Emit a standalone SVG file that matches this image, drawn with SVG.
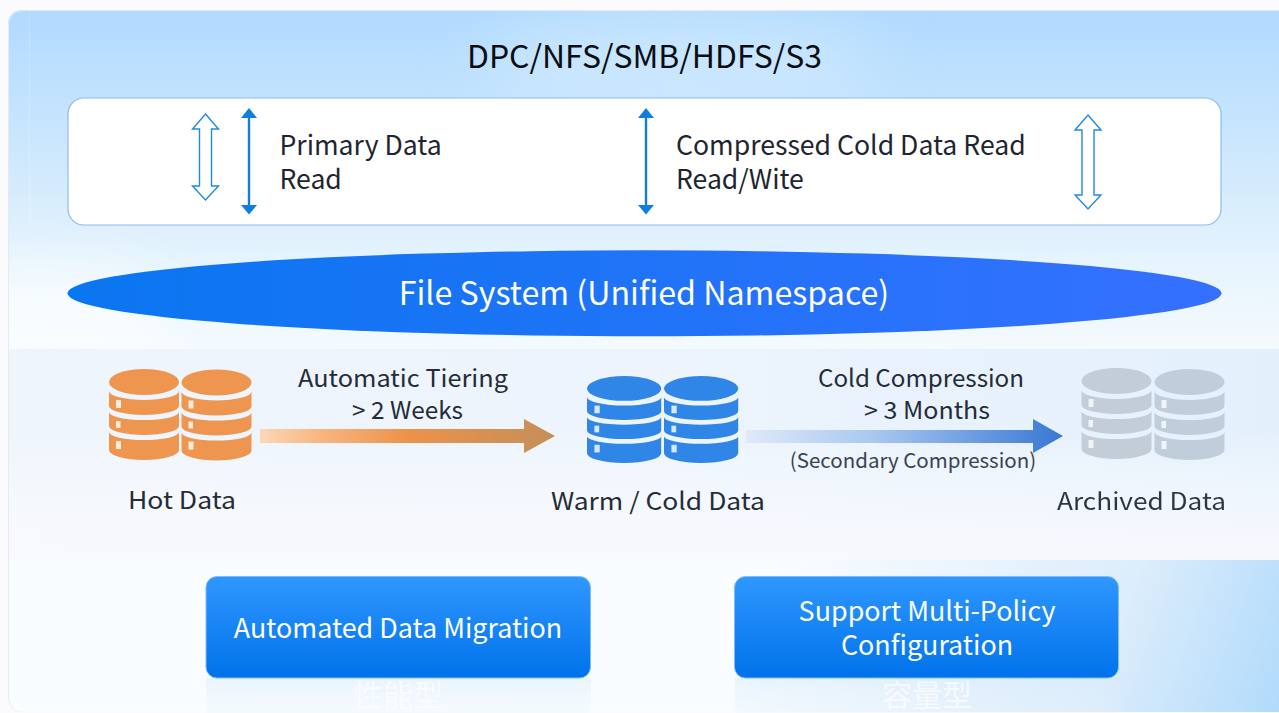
<svg xmlns="http://www.w3.org/2000/svg" xmlns:xlink="http://www.w3.org/1999/xlink" width="1279" height="713" viewBox="0 0 1279 713">
<style>
text{font-family:"Noto Sans CJK SC","Noto Sans",sans-serif}
.mid{font-size:24px;text-anchor:middle;fill:#252c38}
.lbl{font-size:26.600px;fill:#1e2530}
.btn{font-size:26.900px;fill:#fff;text-anchor:middle}
.ghost{font-size:30px;fill:#fff;fill-opacity:.7;text-anchor:middle}
.hollow{fill:#fff;stroke:#1f88e8;stroke-width:1.400}
.solid{fill:#0f7ee0}
.btnbox{fill:url(#btnG);stroke:#7fbdf8;stroke-width:1}
.refl{fill:url(#reflG)}
</style>
<defs>
<linearGradient id="topG" x1="0" y1="0" x2="0" y2="1"><stop offset="0" stop-color="#b0daff"/><stop offset=".35" stop-color="#c8e5fd"/><stop offset=".75" stop-color="#e6f4fd"/><stop offset="1" stop-color="#f5fafe"/></linearGradient>
<linearGradient id="bandG" x1="0" y1="0" x2="1" y2="0"><stop offset="0" stop-color="#eef5fc"/><stop offset=".5" stop-color="#edf4fd"/><stop offset="1" stop-color="#e3f0fc"/></linearGradient>
<linearGradient id="bandV" x1="0" y1="0" x2="0" y2="1"><stop offset="0" stop-color="#fff" stop-opacity="0"/><stop offset="1" stop-color="#f9f9fe" stop-opacity=".95"/></linearGradient>
<linearGradient id="botG" gradientUnits="userSpaceOnUse" x1="760" y1="560" x2="1279" y2="750"><stop offset="0" stop-color="#fafdff"/><stop offset=".65" stop-color="#dcedfb"/><stop offset="1" stop-color="#aed9fb"/></linearGradient>
<linearGradient id="ellG" x1="0" y1="0" x2="1" y2="0"><stop offset="0" stop-color="#0a76f0"/><stop offset="1" stop-color="#3570ff"/></linearGradient>
<linearGradient id="btnG" x1="0" y1="0" x2="0" y2="1"><stop offset="0" stop-color="#2f97ff"/><stop offset="1" stop-color="#0072ea"/></linearGradient>
<linearGradient id="reflG" x1="0" y1="0" x2="0" y2="1"><stop offset="0" stop-color="#d6e9fb" stop-opacity=".45"/><stop offset="1" stop-color="#e4f1fc" stop-opacity=".2"/></linearGradient>
<linearGradient id="a1G" x1="0" y1="0" x2="1" y2="0"><stop offset="0" stop-color="#fcd7b6"/><stop offset=".2" stop-color="#f8b683"/><stop offset=".5" stop-color="#ec924a"/><stop offset="1" stop-color="#c48f5a"/></linearGradient>
<linearGradient id="a2G" x1="0" y1="0" x2="1" y2="0"><stop offset="0" stop-color="#dfe9f8"/><stop offset=".4" stop-color="#a9c8ef"/><stop offset="1" stop-color="#3877d4"/></linearGradient>
<filter id="blur" x="-30%" y="-60%" width="160%" height="220%"><feGaussianBlur stdDeviation="30"/></filter>
<clipPath id="panelClip"><rect x="8" y="10" width="1290" height="702" rx="14"/></clipPath>
<g id="db">
<ellipse cx="35" cy="13" rx="35" ry="13"/>
<path d="M0 22A35 9 0 0 0 70 22V37A35 9 0 0 1 0 37Z"/>
<path d="M0 43A35 8 0 0 0 70 43V57A35 9 0 0 1 0 57Z"/>
<path d="M0 63A35 8 0 0 0 70 63V81A35 10 0 0 1 0 81Z"/>
<g fill="#fff" fill-opacity=".8"><rect x="7" y="31" width="5" height="8"/><rect x="7" y="52" width="4.500" height="7"/><rect x="7" y="72" width="5" height="8"/></g>
</g>
</defs>

<rect width="1279" height="713" fill="#fbfbfe"/>
<g id="background" clip-path="url(#panelClip)">
<rect x="8" y="10" width="1290" height="340" fill="url(#topG)"/>
<ellipse cx="680" cy="60" rx="200" ry="50" fill="#dcf0fe" fill-opacity=".45" filter="url(#blur)"/>
<ellipse cx="40" cy="320" rx="130" ry="50" fill="#fdffff" fill-opacity=".7" filter="url(#blur)"/>
<rect x="29" y="10" width="1" height="340" fill="#fff" fill-opacity=".2"/>
<rect x="8" y="349" width="1290" height="211" fill="url(#bandG)"/>
<rect x="8" y="430" width="1290" height="130" fill="url(#bandV)"/>
<rect x="8" y="560" width="1290" height="153" fill="url(#botG)"/>
<rect x="8.500" y="10.500" width="1290" height="702" rx="14" fill="none" stroke="#e8e8f4" stroke-width="1"/>
</g>

<g id="title"><text x="644.500" y="68" font-size="31.900" text-anchor="middle" fill="#0a0d12">DPC/NFS/SMB/HDFS/S3</text></g>

<g id="protocol-box">
<rect x="68" y="98" width="1153" height="127" rx="16" fill="#fff" stroke="#8cbcf2" stroke-width="1.200"/>
<text class="lbl"><tspan x="279.500" y="154.500">Primary Data</tspan><tspan x="279.500" y="189">Read</tspan></text>
<text class="lbl"><tspan x="676" y="154.500">Compressed Cold Data Read</tspan><tspan x="676" y="189">Read/Wite</tspan></text>
</g>

<g id="file-system">
<ellipse cx="644.500" cy="293.300" rx="577" ry="43" fill="url(#ellG)"/>
<text x="644" y="304.500" font-size="32.200" text-anchor="middle" fill="#fff">File System (Unified Namespace)</text>
</g>

<g id="hot-data">
<use xlink:href="#db" href="#db" x="109" y="369" fill="#ee9650"/>
<use xlink:href="#db" href="#db" x="181.500" y="369.500" fill="#ee9650"/>
<text class="mid" x="182" y="508.500" textLength="108" lengthAdjust="spacingAndGlyphs">Hot Data</text>
</g>
<g id="warm-cold-data">
<use xlink:href="#db" href="#db" transform="translate(587 376) scale(1.060 .955)" fill="#2f86e6"/>
<use xlink:href="#db" href="#db" transform="translate(664 376) scale(1.060 .955)" fill="#2f86e6"/>
<text class="mid" x="658" y="509.500" textLength="214" lengthAdjust="spacingAndGlyphs">Warm / Cold Data</text>
</g>
<g id="archived-data" opacity=".92">
<use xlink:href="#db" href="#db" x="1081.500" y="368" fill="#c0cad6"/>
<use xlink:href="#db" href="#db" x="1154.500" y="369" fill="#bdcbd9"/>
<text class="mid" x="1141.500" y="509.500" textLength="169" lengthAdjust="spacingAndGlyphs" style="fill:#1e2530">Archived Data</text>
</g>

<g id="connectors">
<path class="hollow" d="M205.500 114L218.500 129H211.500V186H218.500L205.500 200L192.500 186H199.500V129H192.500Z"/>
<path class="hollow" d="M1088 115L1101 130H1094V195H1101L1088 209L1075 195H1082V130H1075Z"/>
<path class="solid" d="M249 108L257 118H250.200V205H257L249 214.500L241 205H247.800V118H241Z"/>
<path class="solid" d="M646 108L654 118H647.200V205H654L646 214.500L638 205H644.800V118H638Z"/>
<path fill="url(#a1G)" d="M260 429H524V419L555 436L524 453V443H260Z"/>
<path fill="url(#a2G)" d="M746 430H1033V419L1063 436L1033 453V443H746Z"/>
</g>

<g id="tier-labels">
<text class="mid" x="403" y="387" textLength="210" lengthAdjust="spacingAndGlyphs">Automatic Tiering</text>
<text class="mid" x="407.500" y="418.500" textLength="111" lengthAdjust="spacingAndGlyphs">&gt; 2 Weeks</text>
<text class="mid" x="921" y="387" textLength="206" lengthAdjust="spacingAndGlyphs">Cold Compression</text>
<text class="mid" x="927" y="418.500" textLength="126" lengthAdjust="spacingAndGlyphs">&gt; 3 Months</text>
<text x="913" y="467.500" font-size="20.500" text-anchor="middle" fill="#3a4250">(Secondary Compression)</text>
</g>

<g id="migration">
<rect class="refl" x="206" y="678" width="385" height="35"/>
<text class="ghost" x="398" y="706">性能型</text>
<rect class="btnbox" x="206" y="576.500" width="384.500" height="101.500" rx="11"/>
<text class="btn" x="398" y="638">Automated Data Migration</text>
</g>
<g id="policy">
<rect class="refl" x="735" y="678" width="384" height="35"/>
<text class="ghost" x="927" y="706">容量型</text>
<rect class="btnbox" x="734.500" y="576.500" width="384" height="101.500" rx="11"/>
<text class="btn"><tspan x="927" y="621">Support Multi-Policy</tspan><tspan x="927" y="655">Configuration</tspan></text>
</g>
</svg>
